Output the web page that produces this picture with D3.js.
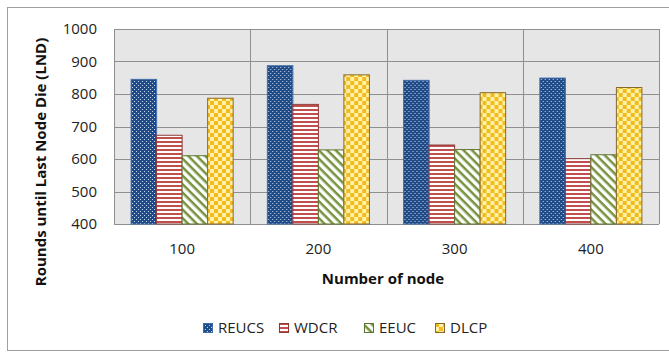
<!DOCTYPE html>
<html>
<head>
<meta charset="utf-8">
<script src="https://cdn.jsdelivr.net/npm/d3@7"></script>
<style>
  body { margin: 0; background: #fff; }
  svg { display: block; }
</style>
</head>
<body>
<div id="graph"></div>
<script>
// data
const categories = ["100", "200", "300", "400"];
const seriesNames = ["REUCS", "WDCR", "EEUC", "DLCP"];
const reucs = [845, 887, 842, 849];
const wdcr = [673, 768, 643, 601];
const eeuc = [610, 628, 629, 613];
const dlcp = [787, 859, 804, 820];
const yTicks = [400, 500, 600, 700, 800, 900, 1000];

const values = [reucs, wdcr, eeuc, dlcp];

const W = 669, H = 352;
const margin = {top: 29, right: 10, bottom: 128, left: 114};
const width = 659 - margin.left, height = 224 - margin.top;

const font = "'Open Sans', 'Liberation Sans', sans-serif";

const svg = d3.select("#graph").append("svg")
    .attr("width", W)
    .attr("height", H);

const defs = svg.append("defs");

// dotted blue
const p1 = defs.append("pattern").attr("id", "pat0")
    .attr("patternUnits", "userSpaceOnUse").attr("width", 4).attr("height", 4);
p1.append("rect").attr("width", 4).attr("height", 4).attr("fill", "#1f4b87");
p1.append("rect").attr("x", 0).attr("y", 0).attr("width", 1).attr("height", 1).attr("fill", "#c9d7ee");
p1.append("rect").attr("x", 2).attr("y", 2).attr("width", 1).attr("height", 1).attr("fill", "#c9d7ee");

// horizontal red stripes
const p2 = defs.append("pattern").attr("id", "pat1")
    .attr("patternUnits", "userSpaceOnUse").attr("width", 4).attr("height", 4);
p2.append("rect").attr("width", 4).attr("height", 4).attr("fill", "#ffffff");
p2.append("rect").attr("y", 0).attr("width", 4).attr("height", 2).attr("fill", "#c0504d");

// diagonal green stripes, going down to the right
const p3 = defs.append("pattern").attr("id", "pat2")
    .attr("patternUnits", "userSpaceOnUse").attr("width", 6).attr("height", 6)
    .attr("patternTransform", "rotate(45)");
p3.append("rect").attr("width", 6).attr("height", 6).attr("fill", "#ffffff");
p3.append("rect").attr("width", 6).attr("height", 2.5).attr("fill", "#76923c");

// yellow checkerboard
const p4 = defs.append("pattern").attr("id", "pat3")
    .attr("patternUnits", "userSpaceOnUse").attr("width", 8).attr("height", 8);
p4.append("rect").attr("width", 8).attr("height", 8).attr("fill", "#fff2a8");
p4.append("rect").attr("width", 4).attr("height", 4).attr("fill", "#f2bb1d");
p4.append("rect").attr("x", 4).attr("y", 4).attr("width", 4).attr("height", 4).attr("fill", "#f2bb1d");

const strokes = ["#3f6ca8", "#8c3a38", "#5e7530", "#8a6a2a"];

// outer frame
svg.append("rect")
    .attr("x", 7.5).attr("y", 7.5)
    .attr("width", 700).attr("height", 343)
    .attr("fill", "#fff")
    .attr("stroke", "#a0a0a0");

const g = svg.append("g").attr("transform", `translate(${margin.left},${margin.top})`);

const x0 = d3.scaleBand().domain(categories).range([0, width]).padding(0);
const x1 = d3.scaleBand().domain(seriesNames).range([0, x0.bandwidth()])
    .paddingInner(0).paddingOuter(0.67);
const y = d3.scaleLinear().domain([400, 1000]).range([height, 0]);

g.append("rect")
    .attr("width", width).attr("height", height)
    .attr("fill", "#e6e6e6");

// gridlines
g.append("g")
  .selectAll("line")
  .data(yTicks)
  .join("line")
    .attr("x1", 0).attr("x2", width)
    .attr("y1", d => Math.round(y(d)) + 0.5).attr("y2", d => Math.round(y(d)) + 0.5)
    .attr("stroke", "#8f8f8f");

g.append("g")
  .selectAll("line")
  .data(categories.concat(["end"]))
  .join("line")
    .attr("x1", (d, i) => Math.round(i * x0.step()) + 0.5)
    .attr("x2", (d, i) => Math.round(i * x0.step()) + 0.5)
    .attr("y1", 0).attr("y2", height)
    .attr("stroke", "#8f8f8f");

// bars
const groups = g.append("g")
  .selectAll("g")
  .data(categories)
  .join("g")
    .attr("transform", d => `translate(${x0(d)},0)`);

groups.selectAll("rect")
  .data((c, ci) => seriesNames.map((s, si) => ({s, si, v: values[si][ci]})))
  .join("rect")
    .attr("x", d => x1(d.s))
    .attr("y", d => y(d.v))
    .attr("width", x1.bandwidth())
    .attr("height", d => y(400) - y(d.v))
    .attr("fill", d => `url(#pat${d.si})`)
    .attr("stroke", d => strokes[d.si])
    .attr("stroke-width", 1);

// y axis labels
g.append("g")
  .selectAll("text")
  .data(yTicks)
  .join("text")
    .attr("x", -17)
    .attr("y", d => y(d))
    .attr("dy", "0.35em")
    .attr("text-anchor", "end")
    .style("font", `15px ${font}`)
    .attr("fill", "#222")
    .text(d => d);

// x axis labels
g.append("g")
  .selectAll("text")
  .data(categories)
  .join("text")
    .attr("x", d => x0(d) + x0.bandwidth() / 2)
    .attr("y", height + 30)
    .attr("text-anchor", "middle")
    .style("font", `15px ${font}`)
    .attr("fill", "#222")
    .text(d => d);

// axis titles
svg.append("text")
    .attr("x", 383).attr("y", 284)
    .attr("text-anchor", "middle")
    .style("font", `bold 15px ${font}`)
    .attr("fill", "#111")
    .text("Number of node");

svg.append("text")
    .attr("transform", "translate(46,162) rotate(-90)")
    .attr("text-anchor", "middle")
    .style("font", `bold 15px ${font}`)
    .attr("fill", "#111")
    .text("Rounds until Last Node Die (LND)");

// legend
const legendX = [203, 279, 364, 435];
const legend = svg.append("g")
  .selectAll("g")
  .data(seriesNames)
  .join("g")
    .attr("transform", (d, i) => `translate(${legendX[i]},323)`);

legend.append("rect")
    .attr("x", 0.5).attr("y", 0.5)
    .attr("width", 9).attr("height", 9)
    .attr("fill", (d, i) => `url(#pat${i})`)
    .attr("stroke", (d, i) => strokes[i]);

legend.append("text")
    .attr("x", 15).attr("y", 10)
    .style("font", `15px ${font}`)
    .attr("fill", "#222")
    .text(d => d);
</script>
</body>
</html>
